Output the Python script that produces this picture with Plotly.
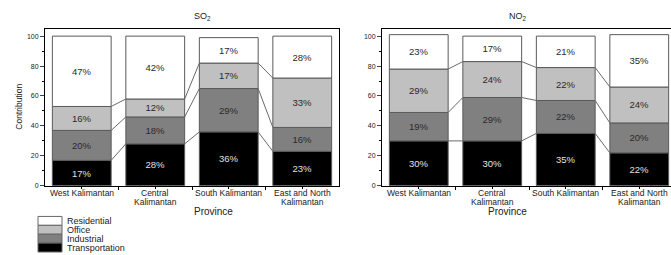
import plotly.graph_objects as go

W, H = 671, 255

provinces = ["West Kalimantan", "Central<br>Kalimantan", "South Kalimantan", "East and North<br>Kalimantan"]
sectors = ["Transportation", "Industrial", "Office", "Residential"]
colors = {"Transportation": "#000000", "Industrial": "#808080", "Office": "#c0c0c0", "Residential": "#ffffff"}
text_colors = {"Transportation": "#e0e0e0", "Industrial": "#2a2a2a", "Office": "#2a2a2a", "Residential": "#2a2a2a"}

so2 = {
    "Transportation": [17, 28, 36, 23],
    "Industrial": [20, 18, 29, 16],
    "Office": [16, 12, 17, 33],
    "Residential": [47, 42, 17, 28],
}
no2 = {
    "Transportation": [30, 30, 35, 22],
    "Industrial": [19, 29, 22, 20],
    "Office": [29, 24, 22, 24],
    "Residential": [23, 17, 21, 35],
}
titles = ["SO<sub>2</sub>", "NO<sub>2</sub>"]
yticks = [0, 20, 40, 60, 80, 100]

FONT = "Liberation Sans, Arial, sans-serif"
BW = 0.8


def px_x(p):
    return p / W


def px_y(p):
    return 1 - p / H


fig = go.Figure()
xs = list(range(len(provinces)))

panels = [(so2, "x", "y"), (no2, "x2", "y2")]
for data, xa, ya in panels:
    cum_prev = [0] * len(xs)
    levels = []
    for s in sectors:
        vals = data[s]
        fig.add_trace(go.Bar(
            x=xs, y=vals, width=BW, base=cum_prev,
            marker=dict(color=colors[s], line=dict(color="#5a5a5a", width=1)),
            text=[f"{v}%" for v in vals], textposition="inside",
            insidetextanchor="middle", textangle=0, constraintext="none",
            textfont=dict(color=text_colors[s], size=9.5, family=FONT),
            xaxis=xa, yaxis=ya, showlegend=False, name=s,
        ))
        cum_prev = [a + b for a, b in zip(cum_prev, vals)]
        levels.append(cum_prev)
    # connecting lines between adjacent bars
    lx, ly = [], []
    for lev in levels[:3]:
        for i in range(len(xs) - 1):
            lx += [xs[i] + BW / 2, xs[i + 1] - BW / 2, None]
            ly += [lev[i], lev[i + 1], None]
    fig.add_trace(go.Scatter(x=lx, y=ly, mode="lines", line=dict(color="#6a6a6a", width=1),
                             xaxis=xa, yaxis=ya, showlegend=False, hoverinfo="skip"))

ydom = [px_y(188), px_y(29)]
axis_common = dict(showline=True, linecolor="#000", linewidth=1, showgrid=False, zeroline=False)
xminor = dict(tickvals=[0.5, 1.5, 2.5], ticks="outside", ticklen=3, tickcolor="#000")

fig.update_layout(
    width=W, height=H, margin=dict(l=0, r=0, t=0, b=0),
    paper_bgcolor="white", plot_bgcolor="white", barmode="overlay",
    font=dict(family=FONT, color="#222"),
    xaxis=dict(domain=[px_x(45), px_x(339)], range=[-0.5, 3.5], tickvals=xs,
               showticklabels=False, ticks="outside", ticklen=2, tickcolor="#000", mirror=True,
               minor=xminor, anchor="y", **axis_common),
    yaxis=dict(domain=ydom, range=[0, 105], tickvals=yticks, ticks="outside", ticklen=4,
               tickfont=dict(size=7), mirror=True,
               minor=dict(dtick=10, ticks="outside", ticklen=2, tickcolor="#000"),
               anchor="x", **axis_common),
    xaxis2=dict(domain=[px_x(382), 1.0], range=[-0.5, 3.5 - 4 * 5 / 294], tickvals=xs,
                showticklabels=False, ticks="outside", ticklen=2, tickcolor="#000", mirror=True,
                minor=xminor, anchor="y2", **axis_common),
    yaxis2=dict(domain=ydom, range=[0, 105], tickvals=yticks, ticks="outside", ticklen=4,
                tickfont=dict(size=7), mirror=False,
                minor=dict(dtick=10, ticks="outside", ticklen=2, tickcolor="#000"),
                anchor="x2", **axis_common),
)

ann = []
for t, cx in zip(titles, [192, 529]):
    ann.append(dict(text=t, x=px_x(cx), y=px_y(17), xref="paper", yref="paper", yanchor="middle",
                    showarrow=False, font=dict(size=9)))
for cx in [192, 529]:
    ann.append(dict(text="Province", x=px_x(cx), y=px_y(214), xref="paper", yref="paper",
                    yanchor="middle", showarrow=False, font=dict(size=10)))
ann.append(dict(text="Contribution", x=px_x(12), y=px_y(108), xref="paper", yref="paper",
                showarrow=False, textangle=-90, font=dict(size=8.5)))

# category labels (one annotation per line for the compact spacing of the reference)
for xa in ["x", "x2"]:
    for i, lab in zip(xs, provinces):
        for j, line in enumerate(lab.split("<br>")):
            ann.append(dict(text=line, x=i, xref=xa, y=px_y(195.5 + 8.5 * j), yref="paper",
                            yanchor="middle", showarrow=False, font=dict(size=8.5)))

# legend (manual, compact)
shapes = []
legend_order = ["Residential", "Office", "Industrial", "Transportation"]
for k, s in enumerate(legend_order):
    top = 219 + 9 * k
    shapes.append(dict(type="rect", xref="paper", yref="paper",
                       x0=px_x(38), x1=px_x(62), y0=px_y(top + 9), y1=px_y(top),
                       fillcolor=colors[s], line=dict(color="#666", width=1)))
    ann.append(dict(text=s, x=px_x(65), y=px_y(top + 5), xref="paper", yref="paper",
                    xanchor="left", yanchor="middle", showarrow=False, font=dict(size=9)))

fig.update_layout(annotations=ann, shapes=shapes)
fig.write_html("out.html", config={"displayModeBar": False},
               post_script="document.body.style.margin='0px';document.body.style.overflow='hidden';")
